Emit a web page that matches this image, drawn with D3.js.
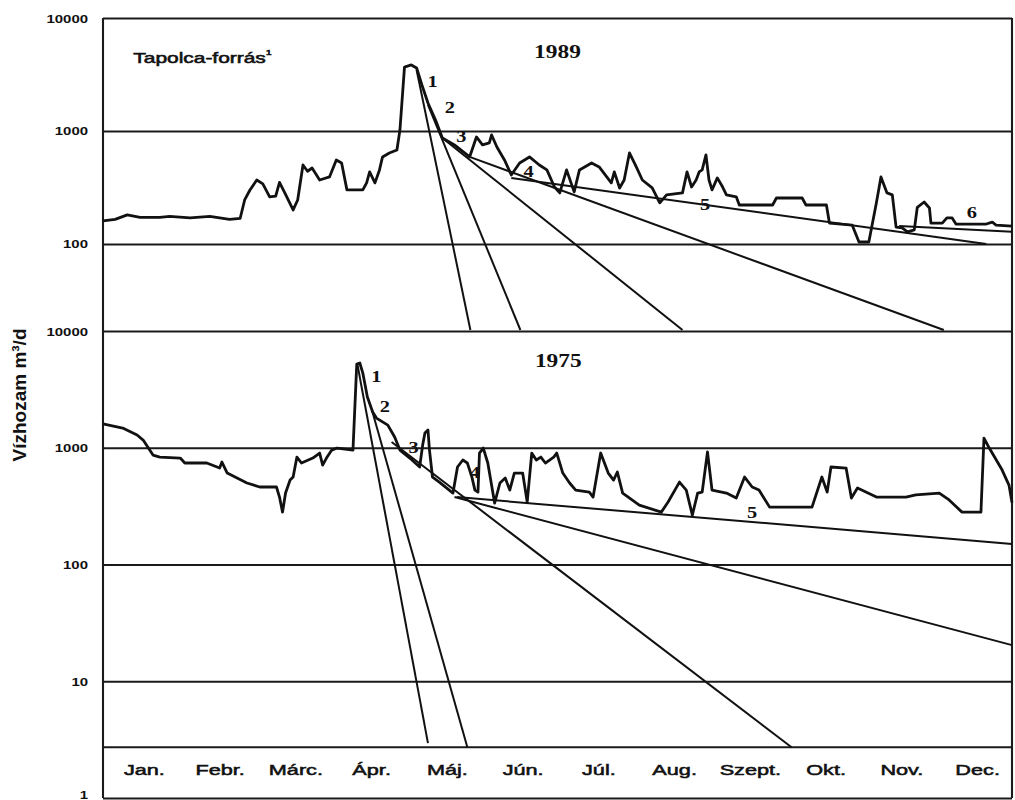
<!DOCTYPE html>
<html>
<head>
<meta charset="utf-8">
<script src="https://cdn.jsdelivr.net/npm/d3@7"></script>
<style>
    body { margin: 0; background: #fff; }
    svg { display: block; }
    .grid line { stroke: #1a1a1a; stroke-width: 1.9; }
    .grid .domain { display: none; }
    .frame { stroke: #1a1a1a; stroke-width: 2.1; }
    .flow { fill: none; stroke: #111; stroke-width: 2.8; stroke-linejoin: round; }
    .rec { stroke: #111; stroke-width: 2; }
    .tick-label { font-family: "Liberation Sans", Arial, sans-serif; font-weight: bold; font-size: 11.5px; fill: #111; }
    .month { font-family: "Liberation Sans", Arial, sans-serif; font-size: 15.5px; fill: #111; stroke: #111; stroke-width: 0.55; }
    .num { font-family: "Liberation Serif", "Times New Roman", serif; font-weight: bold; font-size: 17px; fill: #111; }
    .title { font-family: "Liberation Sans", Arial, sans-serif; font-size: 15.5px; fill: #111; stroke: #111; stroke-width: 0.6; }
    .ylabel { font-family: "Liberation Sans", Arial, sans-serif; font-weight: bold; font-size: 19px; fill: #111; }
</style>
</head>
<body>
<div id="chart"></div>
<script>
var months = ["Jan.", "Febr.", "Márc.", "Ápr.", "Máj.", "Jún.", "Júl.", "Aug.", "Szept.", "Okt.", "Nov.", "Dec."];

// [month (0-12), discharge m3/d]
var flow1989 = [
    [0, 160], [0.16, 165], [0.32, 181], [0.49, 172], [0.75, 172], [0.88, 175], [1.15, 170], [1.41, 175], [1.67, 165], [1.81, 168],
    [1.87, 245], [1.94, 300], [2.03, 368], [2.11, 340], [2.20, 261], [2.28, 265], [2.33, 350], [2.40, 283], [2.51, 200], [2.57, 245],
    [2.64, 500], [2.70, 440], [2.76, 470], [2.86, 368], [2.99, 392], [3.08, 554], [3.15, 520], [3.22, 301], [3.32, 301], [3.43, 301],
    [3.48, 347], [3.52, 434], [3.59, 347], [3.65, 452], [3.69, 589], [3.78, 639], [3.88, 679], [3.92, 1020], [3.98, 3680], [4.07, 3840],
    [4.14, 3610], [4.21, 2550], [4.29, 1770], [4.39, 1250], [4.48, 867], [4.64, 752], [4.84, 589], [4.93, 885], [5.01, 752], [5.10, 783],
    [5.13, 922], [5.20, 722], [5.30, 554], [5.39, 408], [5.50, 521], [5.63, 589], [5.76, 500], [5.86, 452], [5.96, 319], [6.03, 283],
    [6.12, 452], [6.22, 289], [6.29, 452], [6.45, 521], [6.55, 480], [6.65, 392], [6.71, 347], [6.75, 434], [6.82, 313], [6.88, 368],
    [6.95, 639], [7.04, 480], [7.12, 368], [7.25, 313], [7.35, 231], [7.44, 272], [7.65, 283], [7.71, 434], [7.77, 319], [7.83, 368],
    [7.87, 434], [7.91, 452], [7.96, 614], [8.00, 368], [8.04, 301], [8.11, 384], [8.18, 319], [8.23, 272], [8.36, 261], [8.40, 221],
    [8.84, 221], [8.89, 255], [9.23, 255], [9.28, 221], [9.55, 221], [9.59, 153], [9.89, 147], [9.98, 104], [10.11, 104], [10.21, 231],
    [10.27, 392], [10.35, 283], [10.42, 272], [10.47, 141], [10.55, 139], [10.62, 128], [10.71, 133], [10.75, 211], [10.84, 235], [10.91, 208],
    [10.93, 153], [11.08, 153], [11.14, 170], [11.21, 170], [11.26, 150], [11.66, 150], [11.74, 156], [11.79, 147], [12, 144]
];

var flow1975 = [
    [0, 1600], [0.26, 1476], [0.45, 1285], [0.53, 1164], [0.66, 865], [0.75, 832], [1.02, 816], [1.08, 740], [1.37, 740], [1.54, 670],
    [1.57, 754], [1.64, 607], [1.90, 499], [2.07, 461], [2.29, 461], [2.33, 378], [2.37, 281], [2.41, 409], [2.47, 529], [2.51, 561],
    [2.56, 832], [2.62, 740], [2.77, 816], [2.86, 901], [2.90, 711], [2.95, 816], [3.02, 955], [3.09, 994], [3.30, 955], [3.35, 5214],
    [3.39, 5321], [3.43, 4365], [3.49, 2719], [3.56, 2023], [3.61, 1795], [3.76, 1564], [3.85, 1236], [3.92, 955], [4.05, 816], [4.18, 684],
    [4.22, 1054], [4.25, 1337], [4.29, 1419], [4.31, 955], [4.35, 561], [4.44, 508], [4.62, 409], [4.68, 684], [4.75, 785], [4.81, 740],
    [4.87, 561], [4.91, 434], [4.95, 417], [4.97, 901], [5.02, 994], [5.08, 740], [5.17, 336], [5.24, 499], [5.31, 550], [5.37, 434],
    [5.43, 607], [5.54, 607], [5.60, 343], [5.66, 901], [5.72, 785], [5.78, 832], [5.84, 740], [5.95, 832], [5.99, 901], [6.07, 607],
    [6.16, 499], [6.24, 434], [6.42, 417], [6.47, 378], [6.57, 901], [6.67, 607], [6.74, 529], [6.79, 620], [6.86, 409], [7.08, 323],
    [7.37, 281], [7.46, 343], [7.61, 508], [7.70, 434], [7.78, 265], [7.85, 409], [7.91, 417], [7.98, 920], [8.04, 434], [8.23, 409],
    [8.36, 371], [8.47, 561], [8.57, 461], [8.66, 434], [8.80, 310], [9.36, 310], [9.49, 561], [9.56, 417], [9.61, 684], [9.81, 670],
    [9.88, 371], [9.96, 452], [10.21, 378], [10.60, 378], [10.73, 394], [11.04, 409], [11.17, 357], [11.34, 281], [11.59, 281], [11.63, 1211],
    [11.70, 994], [11.87, 644], [11.96, 479], [12, 340]
];

// recession lines: [start, end]
var recession1989 = [
    [[4.14, 3470], [4.85, 17.3]],
    [[4.29, 1700], [5.51, 17.3]],
    [[4.48, 867], [7.65, 17.3]],
    [[4.84, 589], [11.10, 17.3]],
    [[5.39, 384], [11.66, 100]],
    [[10.51, 144], [12, 128]]
];
var recession1975 = [
    [[3.36, 5117], [4.29, 2.95]],
    [[3.55, 2104], [4.81, 2.72]],
    [[3.81, 1119], [9.09, 2.72]],
    [[4.64, 378], [12, 20.4]],
    [[4.67, 378], [12, 150]]
];

var recLabels1989 = [["1", 4.35, 2450], ["2", 4.58, 1443], ["3", 4.73, 800], ["4", 5.62, 392], ["5", 7.95, 200], ["6", 11.47, 170]];
var recLabels1975 = [["1", 3.61, 3655], ["2", 3.72, 2023], ["3", 4.10, 901], ["4", 4.91, 550], ["5", 8.57, 250]];

var topTicks = [100, 1000, 10000],
    bottomTicks = [1, 10, 100, 1000, 10000];

var TOP_MIN = 17.3,     // value where the 1989 panel meets the 1975 panel
    BAND_VALUE = 2.72;  // top of the month label strip

var w = 1015, h = 800;
var x = d3.scaleLinear().domain([0, 12]).range([103, 1012]),
    yTop = d3.scaleLog().domain([TOP_MIN, 10000]).range([330, 18]),
    yBot = d3.scaleLog().domain([1, 10000]).range([798, 331]);

var svg = d3.select("#chart").append("svg")
    .attr("width", w)
    .attr("height", h);

function gridAxis(scale, ticks) {
    var g = svg.append("g")
        .classed("grid", true)
        .attr("transform", "translate(" + x(0) + ",0)")
        .call(d3.axisLeft(scale)
            .tickValues(ticks)
            .tickSizeInner(-(x(12) - x(0)))
            .tickSizeOuter(0)
            .tickFormat(d3.format("d")));
    g.selectAll(".tick text")
        .attr("class", "tick-label")
        .attr("x", null)
        .attr("dy", "0.35em")
        .attr("text-anchor", "end")
        .attr("transform", function (d) {
            // the lowest label sits on the page edge, lift it a little
            return "translate(-15," + (d === 1 ? -4 : 0) + ") scale(1.3,1)";
        });
    return g;
}

gridAxis(yTop, topTicks);
gridAxis(yBot, bottomTicks);

// month strip
svg.append("line")
    .classed("frame", true)
    .attr("x1", x(0)).attr("x2", x(12))
    .attr("y1", yBot(BAND_VALUE)).attr("y2", yBot(BAND_VALUE));

var monthAxis = svg.append("g")
    .attr("transform", "translate(0," + yBot(BAND_VALUE) + ")")
    .call(d3.axisBottom(x)
        .tickValues(d3.range(12).map(function (i) { return i + 0.5; }))
        .tickSize(0)
        .tickFormat(function (d, i) { return months[i]; }));
monthAxis.select(".domain").remove();
monthAxis.selectAll(".tick text")
    .attr("class", "month")
    .attr("y", null)
    .attr("dy", null)
    .attr("text-anchor", "middle")
    .attr("transform", "translate(3,28) scale(1.4,1)");

// frame
[0, 12].forEach(function (m) {
    svg.append("line")
        .classed("frame", true)
        .attr("x1", x(m)).attr("x2", x(m))
        .attr("y1", yTop(10000)).attr("y2", yBot(1));
});

function drawPanel(flow, rec, labels, y) {
    svg.selectAll(null)
        .data(rec)
        .enter()
        .append("line")
        .classed("rec", true)
        .attr("x1", function (d) { return x(d[0][0]); })
        .attr("y1", function (d) { return y(d[0][1]); })
        .attr("x2", function (d) { return x(d[1][0]); })
        .attr("y2", function (d) { return y(d[1][1]); });

    svg.append("path")
        .datum(flow)
        .classed("flow", true)
        .attr("d", d3.line()
            .x(function (d) { return x(d[0]); })
            .y(function (d) { return y(d[1]); }));

    svg.selectAll(null)
        .data(labels)
        .enter()
        .append("text")
        .classed("num", true)
        .attr("text-anchor", "middle")
        .attr("transform", function (d) {
            return "translate(" + x(d[1]) + "," + y(d[2]) + ") scale(1.2,1)";
        })
        .text(function (d) { return d[0]; });
}

drawPanel(flow1989, recession1989, recLabels1989, yTop);
drawPanel(flow1975, recession1975, recLabels1975, yBot);

// year captions
svg.append("text")
    .classed("num", true)
    .style("font-size", "18px")
    .attr("text-anchor", "middle")
    .attr("transform", "translate(" + x(6.0) + "," + yTop(4426) + ") scale(1.3,1)")
    .text("1989");
svg.append("text")
    .classed("num", true)
    .style("font-size", "18px")
    .attr("text-anchor", "middle")
    .attr("transform", "translate(" + x(6.01) + "," + yBot(4920) + ") scale(1.3,1)")
    .text("1975");

// station name
var title = svg.append("text")
    .classed("title", true)
    .attr("transform", "translate(" + x(0.4) + "," + yTop(4000) + ") scale(1.35,1)");
title.append("tspan").text("Tapolca-forrás");
title.append("tspan")
    .attr("dy", -8)
    .style("font-size", "8px")
    .text("1");

// y label
svg.append("text")
    .classed("ylabel", true)
    .attr("text-anchor", "middle")
    .attr("transform", "translate(26,395) rotate(-90)")
    .text("Vízhozam m³/d");
</script>
</body>
</html>
